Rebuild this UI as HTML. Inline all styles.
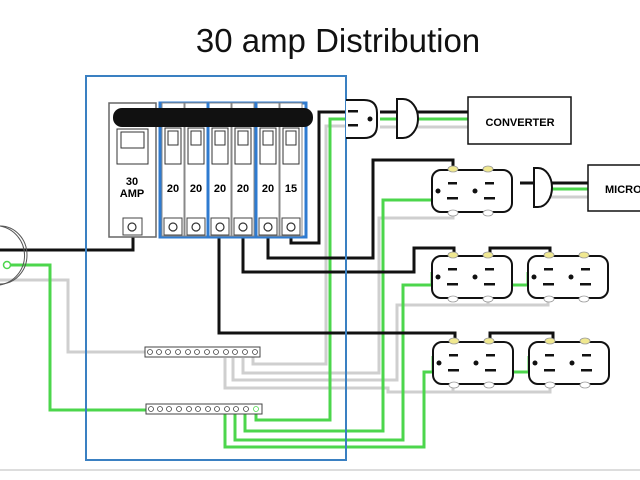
<!DOCTYPE html>
<html><head><meta charset="utf-8"><style>
html,body{margin:0;padding:0;background:#fff;}
svg{display:block;}
text{font-family:"Liberation Sans",sans-serif;}
</style></head><body>
<svg width="640" height="480" viewBox="0 0 640 480" xmlns="http://www.w3.org/2000/svg">
<defs>
<g id="outlet">
  <rect x="0" y="0" width="80" height="42" rx="9" fill="#fff" stroke="#111" stroke-width="2"/>
  <ellipse cx="21" cy="-1" rx="5" ry="3" fill="#f0e890" stroke="#999" stroke-width="0.8"/>
  <ellipse cx="56" cy="-1" rx="5" ry="3" fill="#f0e890" stroke="#999" stroke-width="0.8"/>
  <ellipse cx="21" cy="43" rx="5" ry="3" fill="#fff" stroke="#999" stroke-width="0.8"/>
  <ellipse cx="56" cy="43" rx="5" ry="3" fill="#fff" stroke="#999" stroke-width="0.8"/>
  <circle cx="6" cy="21" r="2.5" fill="#111"/>
  <rect x="16" y="12" width="9" height="2.5" fill="#111"/>
  <rect x="15" y="27" width="11" height="2.5" fill="#111"/>
  <circle cx="43" cy="21" r="2.5" fill="#111"/>
  <rect x="53" y="12" width="9" height="2.5" fill="#111"/>
  <rect x="52" y="27" width="11" height="2.5" fill="#111"/>
</g>
<g id="brk">
  <rect x="0" y="0" width="22" height="133" fill="#fff" stroke="#888" stroke-width="1"/>
  <rect x="3" y="25" width="16" height="36" fill="#fff" stroke="#333" stroke-width="1"/>
  <rect x="6" y="28" width="10" height="14" fill="#fff" stroke="#333" stroke-width="1"/>
  <rect x="2" y="115" width="18" height="17" fill="#fff" stroke="#444" stroke-width="1"/>
  <circle cx="11" cy="124" r="4" fill="#fff" stroke="#333" stroke-width="1.2"/>
</g>
</defs>

<text x="338" y="52" font-size="33" text-anchor="middle" fill="#111">30 amp Distribution</text>
<line x1="0" y1="470" x2="640" y2="470" stroke="#bbb" stroke-width="1"/>

<!-- gray neutral wires -->
<g fill="none" stroke="#cfcfcf" stroke-width="3">
  <polyline points="0,280 68,280 68,352 147,352"/>
  <polyline points="253,352 253,364 326,364 326,126 350,126"/>
  <polyline points="243,358 243,373 379,373 379,218 453,218 453,212"/>
  <polyline points="233,358 233,380 397,380 397,305 452,305 488,305 488,297"/>
  <polyline points="548,297 548,305 488,305"/>
  <polyline points="225,358 225,388 388,388 388,392 453,392 453,384"/>
  <polyline points="388,392 550,392 550,384"/>
  <polyline points="380,127 397,127"/>
  <polyline points="412,127 468,127"/>
  <polyline points="551,197 590,197"/>
</g>
<!-- green ground wires -->
<g fill="none" stroke="#4cd64c" stroke-width="3">
  <polyline points="7,265 50,265 50,410 148,410"/>
  <polyline points="256,410 256,420 330,420 330,119 350,119"/>
  <polyline points="245,412 245,431 383,431 383,200 433,200"/>
  <polyline points="235,412 235,440 403,440 403,285 432,285 432,272"/>
  <polyline points="403,285 528,285 528,272"/>
  <polyline points="225,412 225,447 424,447 424,372 433,372 433,356"/>
  <polyline points="424,372 529,372 529,356"/>
  <polyline points="380,119 397,119"/>
  <polyline points="412,119 468,119"/>
  <polyline points="548,189 590,189"/>
</g>
<!-- black hot wires -->
<g fill="none" stroke="#111" stroke-width="3">
  <polyline points="0,250 133,250 133,227"/>
  <polyline points="219,227 219,333 455,333 455,342"/>
  <polyline points="490,342 490,333 553,333 553,342"/>
  <polyline points="243,227 243,272 414,272 414,248 454,248 454,256"/>
  <polyline points="490,256 490,248 550,248 550,256"/>
  <polyline points="268,227 268,258 373,258 373,160 453,160 453,170"/>
  <polyline points="291,227 291,243 319,243 319,112 348,112"/>
  <polyline points="380,112 397,112"/>
  <polyline points="412,112 468,112"/>
  <polyline points="520,183 590,183"/>
</g>

<!-- service circle -->
<path d="M0,226 A30,30 0 0 1 0,285" fill="none" stroke="#555" stroke-width="1"/>
<path d="M0,226 A27,29 0 0 1 0,284" fill="none" stroke="#555" stroke-width="1"/>
<circle cx="7" cy="265" r="3.5" fill="#fff" stroke="#4cd64c" stroke-width="1.5"/>

<!-- panel blue box -->
<rect x="86" y="76" width="260" height="384" fill="none" stroke="#3a80c2" stroke-width="2"/>

<!-- main breaker -->
<rect x="109" y="103" width="47" height="134" fill="#fff" stroke="#666" stroke-width="1.5"/>
<rect x="117" y="129" width="31" height="35" fill="#fff" stroke="#333" stroke-width="1"/>
<rect x="121" y="132" width="23" height="16" fill="#fff" stroke="#333" stroke-width="1"/>
<text x="132" y="185" font-size="11" font-weight="bold" text-anchor="middle">30</text>
<text x="132" y="197" font-size="11" font-weight="bold" text-anchor="middle">AMP</text>
<rect x="123" y="218" width="19" height="17" fill="#fff" stroke="#444" stroke-width="1"/>
<circle cx="132" cy="227" r="4" fill="#fff" stroke="#333" stroke-width="1.2"/>

<!-- branch breakers -->
<rect x="160" y="103" width="146" height="134" fill="#fff" stroke="#2f7bd0" stroke-width="3"/>
<use href="#brk" x="162" y="103"/>
<use href="#brk" x="185" y="103"/>
<use href="#brk" x="209" y="103"/>
<use href="#brk" x="232" y="103"/>
<use href="#brk" x="257" y="103"/>
<use href="#brk" x="280" y="103"/>
<line x1="208" y1="103" x2="208" y2="237" stroke="#2f7bd0" stroke-width="3"/>
<line x1="256" y1="103" x2="256" y2="237" stroke="#2f7bd0" stroke-width="3"/>
<g font-size="11" font-weight="bold" text-anchor="middle">
<text x="173" y="192">20</text><text x="196" y="192">20</text><text x="220" y="192">20</text>
<text x="243" y="192">20</text><text x="268" y="192">20</text><text x="291" y="192">15</text>
</g>
<rect x="113" y="108" width="200" height="19" rx="9" fill="#111"/>

<!-- bus bars -->
<rect x="145" y="347" width="115" height="10" fill="#fff" stroke="#444" stroke-width="1"/>
<g fill="#fff" stroke="#444" stroke-width="0.8">
<circle cx="150" cy="352" r="2.5"/><circle cx="159" cy="352" r="2.5"/><circle cx="168" cy="352" r="2.5"/><circle cx="178" cy="352" r="2.5"/><circle cx="188" cy="352" r="2.5"/><circle cx="197" cy="352" r="2.5"/><circle cx="207" cy="352" r="2.5"/><circle cx="216" cy="352" r="2.5"/><circle cx="226" cy="352" r="2.5"/><circle cx="235" cy="352" r="2.5"/><circle cx="245" cy="352" r="2.5"/><circle cx="255" cy="352" r="2.5"/>
</g>
<rect x="146" y="404" width="116" height="10" fill="#fff" stroke="#444" stroke-width="1"/>
<g fill="#fff" stroke="#444" stroke-width="0.8">
<circle cx="151" cy="409" r="2.5"/><circle cx="160" cy="409" r="2.5"/><circle cx="169" cy="409" r="2.5"/><circle cx="179" cy="409" r="2.5"/><circle cx="189" cy="409" r="2.5"/><circle cx="198" cy="409" r="2.5"/><circle cx="208" cy="409" r="2.5"/><circle cx="217" cy="409" r="2.5"/><circle cx="227" cy="409" r="2.5"/><circle cx="236" cy="409" r="2.5"/><circle cx="246" cy="409" r="2.5"/><circle cx="256" cy="409" r="2.5" stroke="#4cd64c"/>
</g>

<!-- receptacle 1 (half) -->
<path d="M346,100 L364,100 Q377,100 377,113 L377,125 Q377,138 364,138 L346,138" fill="#fff" stroke="#111" stroke-width="2"/>
<rect x="348" y="110" width="10" height="2.5" fill="#111"/>
<rect x="348" y="124" width="10" height="2.5" fill="#111"/>
<circle cx="370" cy="119" r="2.5" fill="#111"/>
<!-- plug 1 -->
<path d="M397,99 L403,99 A15,19.5 0 0 1 403,138 L397,138 Z" fill="#fff" stroke="#111" stroke-width="2"/>
<rect x="468" y="97" width="103" height="47" fill="#fff" stroke="#111" stroke-width="1.5"/>
<text x="520" y="126" font-size="11" font-weight="bold" text-anchor="middle">CONVERTER</text>

<!-- outlets -->
<use href="#outlet" x="432" y="170"/>
<use href="#outlet" x="432" y="256"/>
<use href="#outlet" x="528" y="256"/>
<use href="#outlet" x="433" y="342"/>
<use href="#outlet" x="529" y="342"/>

<!-- plug 2 -->
<path d="M534,168 L538,168 A14,19.5 0 0 1 538,207 L534,207 Z" fill="#fff" stroke="#111" stroke-width="2"/>
<rect x="588" y="165" width="54" height="46" fill="#fff" stroke="#111" stroke-width="1.5"/>
<text x="605" y="193" font-size="11" font-weight="bold">MICRO</text>
</svg>
</body></html>
